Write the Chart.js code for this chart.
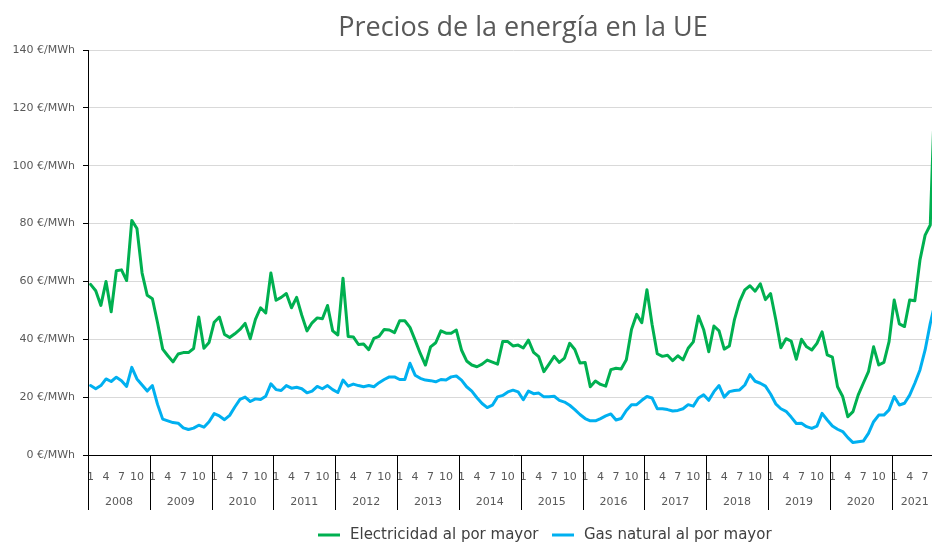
<!DOCTYPE html>
<html>
<head>
<meta charset="utf-8">
<title>Precios de la energía en la UE</title>
<script src="https://cdn.jsdelivr.net/npm/chart.js@4.4.0/dist/chart.umd.min.js"></script>
<style>
  html, body { margin: 0; padding: 0; background: #fff; }
  #wrap { width: 932px; height: 544px; overflow: hidden; }
</style>
</head>
<body>
<div id="wrap"><canvas id="chart" width="938" height="544"></canvas></div>
<script>
// años y meses mostrados (la serie termina en septiembre de 2021)
const years = [2008, 2009, 2010, 2011, 2012, 2013, 2014, 2015, 2016, 2017, 2018, 2019, 2020, 2021];
const lastMonth = 9;
const monthTicks = [1, 4, 7, 10];
const yTicks = [0, 20, 40, 60, 80, 100, 120, 140];

// €/MWh, un renglón por año
const electricidad = [
  59, 56.8, 51.7, 60, 49.5, 63.7, 64, 60.3, 81.1, 78.3, 62.9, 55.2,
  54, 45.7, 36.6, 34.3, 32.2, 34.9, 35.4, 35.4, 36.8, 47.7, 36.9, 38.9,
  45.9, 47.7, 41.7, 40.6, 41.9, 43.4, 45.5, 40.2, 46.9, 50.9, 49.1, 62.9,
  53.5, 54.5, 55.8, 50.9, 54.5, 48.3, 42.9, 45.7, 47.4, 47.1, 51.7, 42.9,
  41.5, 61.1, 41, 40.8, 38.2, 38.4, 36.4, 40.3, 41, 43.4, 43.2, 42.3,
  46.4, 46.4, 44.1, 39.7, 35.1, 31.1, 37.4, 38.8, 42.9, 42.1, 42.1, 43.2,
  36.3, 32.5, 31.1, 30.5, 31.4, 32.8, 32.1, 31.4, 39.2, 39.2, 37.7, 38,
  37, 39.7, 35.5, 34, 28.8, 31.4, 34.1, 32, 33.5, 38.6, 36.5, 31.8,
  32, 23.6, 25.6, 24.4, 23.8, 29.5, 30, 29.7, 32.9, 43.4, 48.6, 45.7,
  57.1, 45.1, 35, 34.1, 34.5, 32.6, 34.3, 32.9, 36.9, 39.1, 48, 43.4,
  35.7, 44.6, 42.9, 36.6, 37.7, 46.9, 53.1, 57.1, 58.5, 56.6, 59.2, 53.7,
  55.8, 46.9, 37.1, 40.2, 39.4, 33.1, 40, 37.4, 36.3, 38.6, 42.6, 34.6,
  33.8, 23.6, 20.2, 13.2, 15, 20.7, 24.8, 28.8, 37.4, 31.1, 32, 39.2,
  53.6, 45.3, 44.4, 53.6, 53.3, 67.4, 76, 79.5, 132
];

const gasNatural = [
  24, 22.9, 24, 26.3, 25.4, 26.9, 25.7, 23.7, 30.3, 26.3, 24.2, 22.1,
  24, 17.5, 12.4, 11.8, 11.2, 11, 9.4, 8.8, 9.3, 10.3, 9.6, 11.5,
  14.3, 13.5, 12.2, 13.7, 16.6, 19.2, 20, 18.5, 19.4, 19.2, 20.3, 24.6,
  22.6, 22.3, 24, 23.1, 23.4, 22.9, 21.5, 22.1, 23.7, 22.9, 24, 22.6,
  21.6, 25.9, 23.8, 24.5, 24, 23.6, 24, 23.6, 25, 26.1, 27, 27,
  26.1, 26.1, 31.7, 27.6, 26.5, 25.9, 25.7, 25.3, 26.1, 25.9, 27, 27.3,
  25.9, 23.6, 22.1, 19.8, 17.8, 16.4, 17.2, 20.1, 20.6, 21.8, 22.4, 21.8,
  19.1, 22.1, 21.2, 21.4, 20.1, 20.1, 20.3, 18.9, 18.3, 17.2, 15.7, 14,
  12.6, 11.8, 11.8, 12.6, 13.5, 14.2, 12.1, 12.6, 15.4, 17.4, 17.4, 18.9,
  20.2, 19.7, 16, 16, 15.7, 15.2, 15.4, 16, 17.4, 16.9, 19.7, 20.8,
  18.9, 21.9, 24, 20, 21.9, 22.3, 22.5, 24.2, 27.8, 25.5, 24.8, 23.8,
  21.1, 17.7, 16, 15.1, 13.1, 10.9, 11, 9.8, 9.2, 10, 14.4, 12.1,
  10, 8.9, 8.1, 6, 4.3, 4.6, 4.8, 7.5, 11.5, 13.8, 13.8, 15.6,
  20.2, 17.3, 17.9, 20.7, 24.8, 29.4, 36.3, 45.5, 53
];

const seriesNames = ['Electricidad al por mayor', 'Gas natural al por mayor'];
const seriesColors = ['#00b050', '#00b0f0'];

const labels = [];
years.forEach(y => {
  const n = y === years[years.length - 1] ? lastMonth : 12;
  for (let m = 1; m <= n; m++) labels.push(y + '-' + m);
});

const textColor = '#595959';
const axisFont = { family: 'DejaVu Sans', size: 11 };

// bloques de años bajo el eje, título y leyenda
const extras = {
  id: 'extras',
  afterDraw(chart) {
    const { ctx } = chart;
    const x = chart.scales.x;
    const step = x.getPixelForValue(1) - x.getPixelForValue(0);
    ctx.save();
    ctx.strokeStyle = '#000';
    ctx.lineWidth = 1;
    ctx.fillStyle = textColor;
    ctx.font = '11px "DejaVu Sans"';
    ctx.textAlign = 'center';
    ctx.textBaseline = 'middle';
    years.forEach((yr, k) => {
      const first = k * 12;
      const n = Math.min(12, labels.length - first);
      const x0 = x.getPixelForValue(first) - step / 2;
      const x1 = x.getPixelForValue(first + n - 1) + step / 2;
      const px = Math.round(x0) + 0.5;
      ctx.beginPath();
      ctx.moveTo(px, x.top);
      ctx.lineTo(px, x.top + 55);
      ctx.stroke();
      ctx.fillText(String(yr), (x0 + x1) / 2, x.top + 47);
    });

    // título
    ctx.font = '27px "Open Sans"';
    ctx.fillStyle = textColor;
    ctx.textBaseline = 'alphabetic';
    ctx.fillText('Precios de la energía en la UE', 523, 36);

    // leyenda
    ctx.font = '15px "DejaVu Sans"';
    ctx.textAlign = 'left';
    ctx.textBaseline = 'middle';
    ctx.lineWidth = 3;
    const starts = [318, 552];
    seriesNames.forEach((name, i) => {
      ctx.strokeStyle = seriesColors[i];
      ctx.beginPath();
      ctx.moveTo(starts[i], 535);
      ctx.lineTo(starts[i] + 22, 535);
      ctx.stroke();
      ctx.fillStyle = '#404040';
      ctx.fillText(name, starts[i] + 32, 535);
    });
    ctx.restore();
  }
};

new Chart(document.getElementById('chart'), {
  type: 'line',
  data: {
    labels: labels,
    datasets: [
      { label: seriesNames[0], data: electricidad, borderColor: seriesColors[0], backgroundColor: seriesColors[0] },
      { label: seriesNames[1], data: gasNatural, borderColor: seriesColors[1], backgroundColor: seriesColors[1] }
    ]
  },
  options: {
    responsive: false,
    animation: false,
    events: [],
    layout: { padding: { top: 50, left: 0, right: 0, bottom: 0 } },
    elements: {
      line: { borderWidth: 3, tension: 0, borderJoinStyle: 'round', borderCapStyle: 'round' },
      point: { radius: 0 }
    },
    plugins: { legend: { display: false }, title: { display: false }, tooltip: { enabled: false } },
    scales: {
      x: {
        type: 'category',
        offset: true,
        grid: { display: true, drawOnChartArea: false, drawTicks: true, tickLength: 16, color: 'transparent' },
        border: { display: true, color: '#000', width: 1 },
        ticks: {
          autoSkip: false,
          maxRotation: 0,
          padding: 0,
          color: textColor,
          font: axisFont,
          callback(value) {
            const m = Number(this.getLabelForValue(value).split('-')[1]);
            return monthTicks.includes(m) ? String(m) : '';
          }
        },
        afterFit(scale) { scale.height = 89; }
      },
      y: {
        min: yTicks[0],
        max: yTicks[yTicks.length - 1],
        afterBuildTicks(scale) { scale.ticks = yTicks.map(v => ({ value: v })); },
        grid: { color: '#d9d9d9', tickColor: '#000', tickLength: 5 },
        border: { display: true, color: '#000', width: 1 },
        ticks: {
          padding: 8,
          color: textColor,
          font: axisFont,
          callback: v => v + ' €/MWh'
        },
        afterFit(scale) { scale.width = 88; }
      }
    }
  },
  plugins: [extras]
});
</script>
</body>
</html>
